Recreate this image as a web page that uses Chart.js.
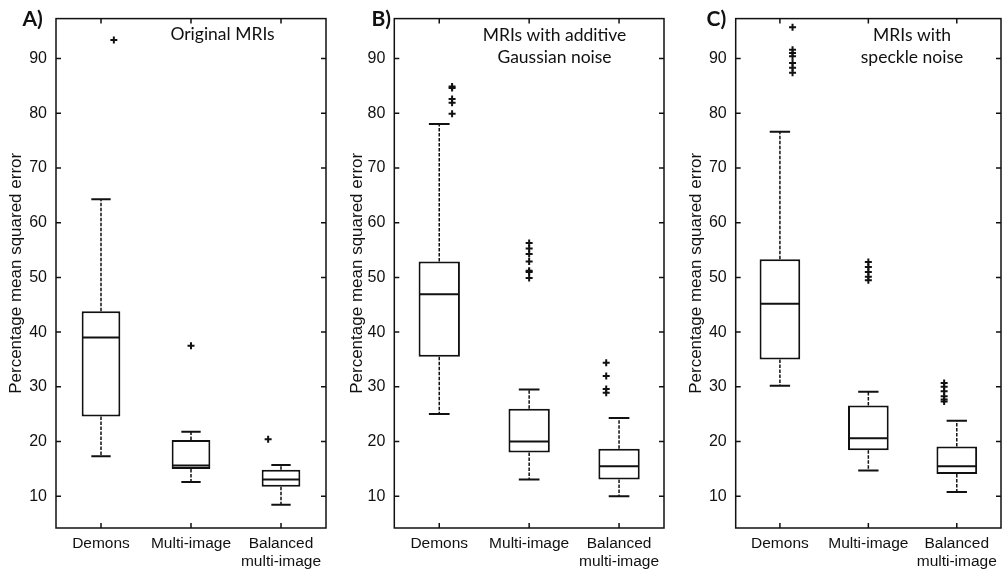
<!DOCTYPE html>
<html>
<head>
<meta charset="utf-8">
<script src="https://cdn.jsdelivr.net/npm/chart.js@4.4.0/dist/chart.umd.min.js"></script>
<style>
  html, body { margin: 0; padding: 0; background: #fff; }
  #wrap { position: relative; width: 1007px; height: 573px; overflow: hidden; }
  canvas { position: absolute; top: 0; }
</style>
</head>
<body>
<div id="wrap">
  <canvas id="panelA" width="335" height="573" style="left:0px"></canvas>
  <canvas id="panelB" width="335" height="573" style="left:335px"></canvas>
  <canvas id="panelC" width="337" height="573" style="left:670px"></canvas>
</div>
<script>
// categories (x tick labels)
const categories = [['Demons'], ['Multi-image'], ['Balanced', 'multi-image']];
const yTitle = 'Percentage mean squared error';

// A) original MRIs
const origMin = [17.3, 12.6, 8.45];
const origQ1  = [24.6, 15.0, 11.75];
const origMed = [39.0, 15.6, 13.05];
const origQ3  = [43.8, 20.3, 14.85];
const origMax = [64.3, 21.8, 15.7];
const origOut = [[93.4], [37.5], [20.4]];

// B) additive gaussian noise
const gaussMin = [25.05, 13.05, 10.0];
const gaussQ1  = [35.5, 18.0, 13.05];
const gaussMed = [46.9, 20.0, 15.5];
const gaussQ3  = [52.9, 26.0, 18.7];
const gaussMax = [78.05, 29.5, 24.3];
const gaussOut = [[79.9, 81.9, 82.6, 84.6, 84.9],
                  [49.9, 51.0, 51.2, 52.9, 54.3, 55.3, 56.3],
                  [28.9, 29.6, 32.0, 34.4]];

// C) speckle noise
const speckMin = [30.2, 14.7, 10.8];
const speckQ1  = [35.0, 18.4, 14.05];
const speckMed = [45.2, 20.6, 15.5];
const speckQ3  = [53.3, 26.6, 19.1];
const speckMax = [76.6, 29.1, 23.8];
const speckOut = [[87.4, 88.3, 89.2, 90.4, 91.0, 91.6, 95.7],
                  [49.5, 50.1, 51.0, 51.9, 52.8],
                  [27.3, 27.7, 28.3, 29.2, 30.0, 30.7]];

const yMin = 4.2, yMax = 97.3;
const ink = '#111';
const arial = '"Liberation Sans", Arial, sans-serif';

// whiskers, caps, medians, frame and inward ticks
const boxExtras = {
  id: 'boxExtras',
  afterDatasetsDraw(chart, args, opts) {
    const {ctx, chartArea: a, scales: {x, y}} = chart;
    const meta = chart.getDatasetMeta(0);
    ctx.save();
    ctx.strokeStyle = ink;
    meta.data.forEach((bar, i) => {
      const cx = bar.x, half = bar.width / 2, cap = bar.width / 4;
      const top = y.getPixelForValue(opts.q3[i]);
      const bot = y.getPixelForValue(opts.q1[i]);
      const hi = y.getPixelForValue(opts.max[i]);
      const lo = y.getPixelForValue(opts.min[i]);
      ctx.lineWidth = 1.5;
      ctx.setLineDash([3.5, 1.5]);
      ctx.beginPath();
      ctx.moveTo(cx, top); ctx.lineTo(cx, hi);
      ctx.moveTo(cx, bot); ctx.lineTo(cx, lo);
      ctx.stroke();
      ctx.setLineDash([]);
      ctx.lineWidth = 2;
      ctx.beginPath();
      ctx.moveTo(cx - cap, hi); ctx.lineTo(cx + cap, hi);
      ctx.moveTo(cx - cap, lo); ctx.lineTo(cx + cap, lo);
      const m = y.getPixelForValue(opts.med[i]);
      ctx.moveTo(cx - half + 1, m); ctx.lineTo(cx + half - 1, m);
      ctx.stroke();
    });
    // frame
    ctx.lineWidth = 1.5;
    ctx.strokeRect(a.left, a.top, a.right - a.left, a.bottom - a.top);
    ctx.beginPath();
    y.ticks.forEach(t => {
      const py = y.getPixelForValue(t.value);
      ctx.moveTo(a.left, py); ctx.lineTo(a.left + 5, py);
      ctx.moveTo(a.right, py); ctx.lineTo(a.right - 5, py);
    });
    x.ticks.forEach((t, i) => {
      const px = x.getPixelForTick(i);
      ctx.moveTo(px, a.top); ctx.lineTo(px, a.top + 5);
      ctx.moveTo(px, a.bottom); ctx.lineTo(px, a.bottom - 5);
    });
    ctx.stroke();
    // panel letter and inner title
    ctx.fillStyle = ink;
    ctx.font = 'bold 21px Lato';
    ctx.textAlign = 'left';
    ctx.fillText(opts.letter, opts.letterX, 25.5);
    ctx.font = '17.5px Lato';
    ctx.textAlign = 'center';
    opts.title.forEach((line, k) => {
      ctx.fillText(line, opts.titleX, opts.titleY + k * 22.5);
    });
    ctx.restore();
  }
};

function makePanel(id, box, mins, q1, med, q3, maxs, outs, extras) {
  const canvas = document.getElementById(id);
  const outPts = [];
  outs.forEach((list, i) => list.forEach(v => outPts.push({x: i, y: v})));
  return new Chart(canvas, {
    type: 'bar',
    data: {
      labels: categories,
      datasets: [
        {
          type: 'bar',
          data: q1.map((v, i) => [v, q3[i]]),
          backgroundColor: '#fff',
          borderColor: ink,
          borderWidth: 2,
          borderSkipped: false,
          grouped: false,
          barPercentage: box.boxPct,
          categoryPercentage: 1
        },
        {
          type: 'scatter',
          xAxisID: 'xs',
          data: outPts,
          pointStyle: 'cross',
          radius: 3.5,
          borderWidth: 2,
          borderColor: ink
        }
      ]
    },
    options: {
      responsive: false,
      animation: false,
      layout: { padding: { left: 0, top: box.top, right: canvas.width - box.right, bottom: 0 } },
      plugins: {
        legend: { display: false },
        tooltip: { enabled: false },
        boxExtras: Object.assign({ min: mins, q1: q1, med: med, q3: q3, max: maxs }, extras)
      },
      scales: {
        x: {
          grid: { display: false, drawTicks: false },
          border: { display: false },
          ticks: { color: ink, padding: 6, font: { family: arial, size: 15.5, lineHeight: 1.2 } },
          afterFit(s) { s.height = 573 - box.bottom; }
        },
        xs: {
          type: 'linear',
          display: false,
          min: -0.5,
          max: 2.5
        },
        y: {
          min: yMin,
          max: yMax,
          grid: { display: false, drawTicks: false },
          border: { display: false },
          ticks: { stepSize: 10, includeBounds: false, color: ink, padding: 9,
                   font: { family: arial, size: 16 } },
          title: { display: true, text: yTitle, color: ink, padding: { top: box.titlePad, bottom: 0 },
                   font: { family: arial, size: 17 } },
          afterFit(s) { s.width = box.left; }
        }
      }
    },
    plugins: [boxExtras]
  });
}

makePanel('panelA', { left: 56, right: 326, top: 8, bottom: 528, titlePad: 6, boxPct: 0.43 },
  origMin, origQ1, origMed, origQ3, origMax, origOut,
  { letter: 'A)', letterX: 22.5, title: ['Original MRIs'], titleX: 222.5, titleY: 39.5 });

makePanel('panelB', { left: 59.3, right: 331, top: 8, bottom: 528, titlePad: 12.5, boxPct: 0.46 },
  gaussMin, gaussQ1, gaussMed, gaussQ3, gaussMax, gaussOut,
  { letter: 'B)', letterX: 36.5, title: ['MRIs with additive', 'Gaussian noise'], titleX: 219.5, titleY: 40.5 });

makePanel('panelC', { left: 65.7, right: 335.5, top: 8, bottom: 528, titlePad: 16.5, boxPct: 0.46 },
  speckMin, speckQ1, speckMed, speckQ3, speckMax, speckOut,
  { letter: 'C)', letterX: 36.5, title: ['MRIs with', 'speckle noise'], titleX: 242, titleY: 40.5 });
</script>
</body>
</html>
